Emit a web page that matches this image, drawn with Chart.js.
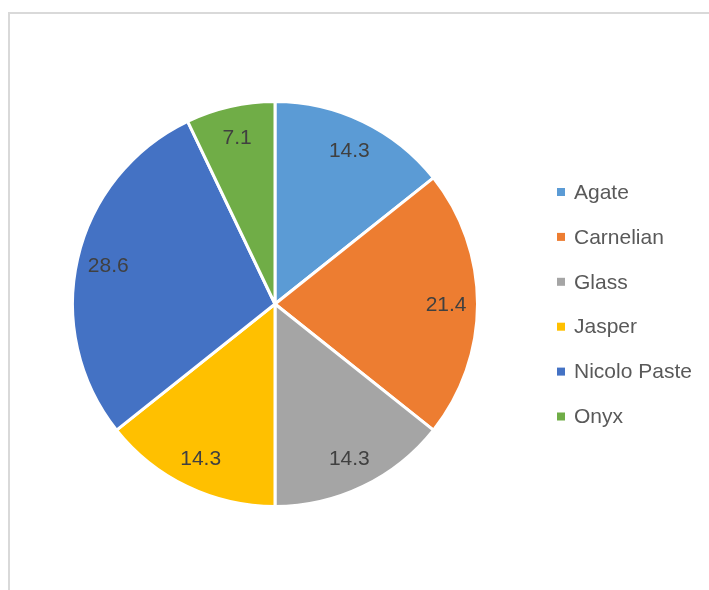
<!DOCTYPE html>
<html>
<head>
<meta charset="utf-8">
<script src="https://cdn.jsdelivr.net/npm/chart.js@4/dist/chart.umd.min.js"></script>
<style>
  html, body { margin: 0; padding: 0; background: #ffffff; }
  #wrap { position: relative; width: 709px; height: 590px; overflow: hidden; }
  #frame { position: absolute; left: 8px; top: 12px; width: 720px; height: 600px;
           border-top: 2px solid #d9d9d9; border-left: 2px solid #d9d9d9; box-sizing: border-box; }
  canvas { position: absolute; left: 0; top: 0; }
</style>
</head>
<body>
<div id="wrap">
  <div id="frame"></div>
  <canvas id="c" width="709" height="590"></canvas>
</div>
<script>
// Material shares of the gem collection (percent)
const categories = ['Agate', 'Carnelian', 'Glass', 'Jasper', 'Nicolo Paste', 'Onyx'];
const shares = [14.3, 21.4, 14.3, 14.3, 28.6, 7.1];
const sliceColors = ['#5B9BD5', '#ED7D31', '#A5A5A5', '#FFC000', '#4472C4', '#70AD47'];

const FONT = '"Liberation Sans", Arial, sans-serif';

// Value labels placed inside each slice
const sliceLabels = {
  id: 'sliceLabels',
  afterDatasetsDraw(chart) {
    const ctx = chart.ctx;
    const meta = chart.getDatasetMeta(0);
    ctx.save();
    ctx.font = '21px ' + FONT;
    ctx.fillStyle = '#404040';
    ctx.textAlign = 'center';
    ctx.textBaseline = 'middle';
    meta.data.forEach((arc, i) => {
      const p = arc.getProps(['x', 'y', 'startAngle', 'endAngle', 'outerRadius'], true);
      const mid = (p.startAngle + p.endAngle) / 2;
      const r = p.outerRadius * 0.845;
      ctx.fillText(String(shares[i]), p.x + Math.cos(mid) * r, p.y + Math.sin(mid) * r + 1);
    });
    ctx.restore();
  }
};

// Legend column on the right
const sideLegend = {
  id: 'sideLegend',
  afterDraw(chart) {
    const ctx = chart.ctx;
    ctx.save();
    ctx.font = '21px ' + FONT;
    ctx.textBaseline = 'middle';
    categories.forEach((name, i) => {
      const y = 192 + i * 44.9;
      ctx.fillStyle = sliceColors[i];
      ctx.fillRect(557, y - 4, 8, 8);
      ctx.fillStyle = '#595959';
      ctx.fillText(name, 574, y + 1);
    });
    ctx.restore();
  }
};

new Chart(document.getElementById('c'), {
  type: 'pie',
  data: {
    labels: categories,
    datasets: [{
      data: shares,
      backgroundColor: sliceColors,
      borderColor: '#ffffff',
      borderWidth: 3,
      hoverOffset: 0
    }]
  },
  options: {
    responsive: false,
    animation: false,
    layout: { padding: { left: 71, top: 100, right: 230, bottom: 82 } },
    plugins: {
      legend: { display: false },
      tooltip: { enabled: false }
    }
  },
  plugins: [sliceLabels, sideLegend]
});
</script>
</body>
</html>
